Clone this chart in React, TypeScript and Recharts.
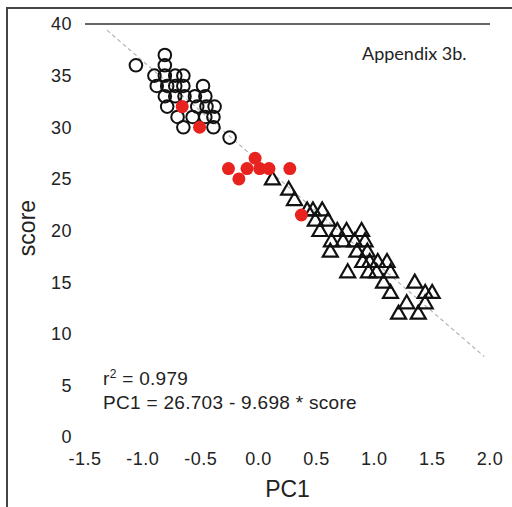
import React from 'react';
import { ScatterChart, Scatter, XAxis, YAxis, ReferenceLine, Label } from 'recharts';

// axis ticks
const xTicks = [-1.5, -1.0, -0.5, 0, 0.5, 1.0, 1.5, 2.0];
const yTicks = [0, 5, 10, 15, 20, 25, 30, 35, 40];

// open circles (high score group)
const circlePC1 = [-1.06, -0.81, -0.81, -0.9, -0.81, -0.72, -0.65, -0.88, -0.79, -0.72, -0.65, -0.48, -0.81, -0.72, -0.64, -0.55, -0.46, -0.79, -0.53, -0.45, -0.38, -0.7, -0.57, -0.46, -0.39, -0.65, -0.39, -0.25];
const circleScore = [36, 37, 36, 35, 35, 35, 35, 34, 34, 34, 34, 34, 33, 33, 33, 33, 33, 32, 32, 32, 32, 31, 31, 31, 31, 30, 30, 29];

// open triangles (low score group)
const trianglePC1 = [0.12, 0.26, 0.31, 0.42, 0.47, 0.55, 0.49, 0.6, 0.53, 0.68, 0.76, 0.89, 0.63, 0.73, 0.83, 0.92, 0.62, 0.85, 0.94, 0.9, 0.96, 1.03, 1.11, 0.77, 0.95, 1.02, 1.14, 1.08, 1.35, 1.14, 1.44, 1.5, 1.28, 1.44, 1.21, 1.38];
const triangleScore = [25, 24, 23, 22, 22, 22, 21, 21, 20, 20, 20, 20, 19, 19, 19, 19, 18, 18, 18, 17, 17, 17, 17, 16, 16, 16, 16, 15, 15, 14, 14, 14, 13, 13, 12, 12];

// red filled points
const redPC1 = [-0.66, -0.51, -0.26, -0.17, -0.1, -0.03, 0.01, 0.09, 0.27, 0.37];
const redScore = [32, 30, 26, 25, 26, 27, 26, 26, 26, 21.5];

// fitted line: score = intercept + slope * PC1
const intercept = 26.703;
const slope = -9.698;
const lineStart = -1.31;
const lineEnd = 1.95;

const zip = (xs: number[], ys: number[]) => xs.map((x, i) => ({ x, y: ys[i] }));

const circleData = zip(circlePC1, circleScore);
const triangleData = zip(trianglePC1, triangleScore);
const redData = zip(redPC1, redScore);

const OpenCircle = (props: any) => (
  <circle cx={props.cx} cy={props.cy} r={6.3} fill="none" stroke="#111" strokeWidth={2} />
);

const OpenTriangle = (props: any) => {
  const { cx, cy } = props;
  const pts = `${cx},${cy - 7.5} ${cx - 7.5},${cy + 5.5} ${cx + 7.5},${cy + 5.5}`;
  return <polygon points={pts} fill="none" stroke="#111" strokeWidth={2.2} />;
};

const RedDot = (props: any) => <circle cx={props.cx} cy={props.cy} r={6.5} fill="#e8221e" />;

const tickStyle = { fontSize: 18, fill: '#222', fontFamily: '"Liberation Sans", Arial, sans-serif', letterSpacing: 0.5 };

export default function App() {
  return (
    <div style={{ position: 'absolute', left: 0, top: 0, width: 512, height: 507, background: '#fff', overflow: 'hidden' }}>
      <div
        style={{
          position: 'absolute',
          left: 6,
          top: 7,
          right: -4,
          bottom: -4,
          borderLeft: '2px solid #444',
          borderTop: '2px solid #444',
        }}
      />
      <div style={{ position: 'absolute', left: 0, top: 0 }}>
        <ScatterChart width={512} height={507} margin={{ top: 24, right: 22, bottom: 0, left: 0 }}>
          <XAxis
            type="number"
            dataKey="x"
            domain={[-1.5, 2.0]}
            ticks={xTicks}
            tickFormatter={(v: number) => v.toFixed(1)}
            axisLine={false}
            tickLine={false}
            tickSize={0}
            tickMargin={15}
            height={70}
            tick={tickStyle}
            interval={0}
          >
            <Label
              value="PC1"
              position="insideBottom"
              offset={10}
              style={{ fontSize: 23, fill: '#222', fontFamily: '"Liberation Sans", Arial, sans-serif' }}
            />
          </XAxis>
          <YAxis
            type="number"
            dataKey="y"
            domain={[0, 40]}
            ticks={yTicks}
            axisLine={false}
            tickLine={false}
            tickSize={0}
            tickMargin={13}
            width={85}
            tick={tickStyle}
            interval={0}
          />
          <ReferenceLine y={40} stroke="#666" strokeWidth={2} segment={[{ x: -1.47, y: 40 }, { x: 1.97, y: 40 }]} />
          <ReferenceLine
            stroke="#b5b5b5"
            strokeWidth={1.2}
            strokeDasharray="4 3"
            segment={[
              { x: lineStart, y: intercept + slope * lineStart },
              { x: lineEnd, y: intercept + slope * lineEnd },
            ]}
          />
          <Scatter data={circleData} shape={OpenCircle} isAnimationActive={false} />
          <Scatter data={triangleData} shape={OpenTriangle} isAnimationActive={false} />
          <Scatter data={redData} shape={RedDot} isAnimationActive={false} />
        </ScatterChart>
      </div>
      <div
        style={{
          position: 'absolute',
          left: 27,
          top: 228,
          transform: 'translate(-50%, -50%) rotate(-90deg)',
          fontSize: 23,
          color: '#222',
          fontFamily: '"Liberation Sans", Arial, sans-serif',
          whiteSpace: 'nowrap',
        }}
      >
        score
      </div>
      <div
        style={{
          position: 'absolute',
          left: 362,
          top: 42,
          fontSize: 18,
          color: '#222',
          fontFamily: 'Lato, "Open Sans", sans-serif',
          whiteSpace: 'nowrap',
        }}
      >
        Appendix 3b.
      </div>
      <div
        style={{
          position: 'absolute',
          left: 103,
          top: 368,
          fontSize: 19,
          lineHeight: '21px',
          letterSpacing: 0.3,
          color: '#222',
          fontFamily: '"Liberation Sans", Arial, sans-serif',
          whiteSpace: 'nowrap',
        }}
      >
        <div>
          r<span style={{ fontSize: 12, position: 'relative', top: -7 }}>2</span> = 0.979
        </div>
        <div>PC1 = 26.703 - 9.698 * score</div>
      </div>
    </div>
  );
}
